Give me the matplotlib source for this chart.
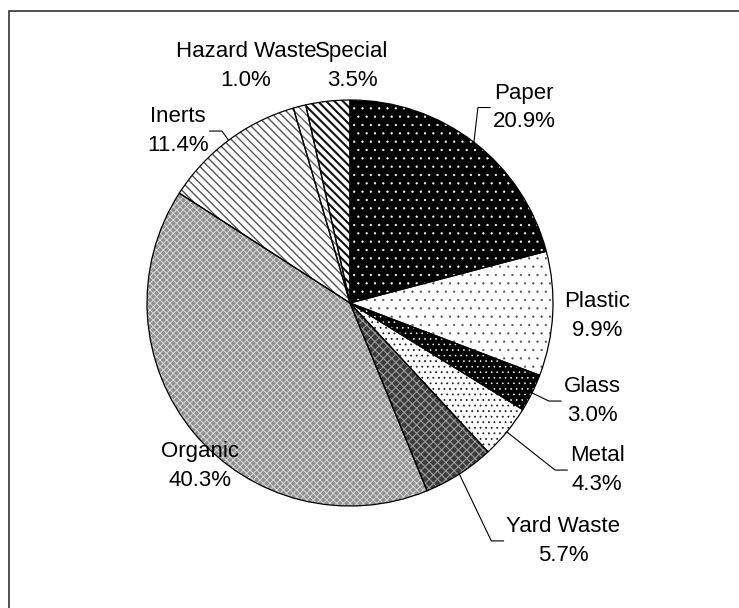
import matplotlib.pyplot as plt
from matplotlib.patches import Wedge, Rectangle
import numpy as np

plt.rcParams['font.family'] = ['Liberation Sans', 'DejaVu Sans']

categories = ['Paper', 'Plastic', 'Glass', 'Metal', 'Yard Waste',
              'Organic', 'Inerts', 'Hazard Waste', 'Special']
shares = [20.9, 9.9, 3.0, 4.3, 5.7, 40.3, 11.4, 1.0, 3.5]

# face colour, hatch, hatch colour, hatch width
styles = {
    'Paper':        ('black',   '..',       'white',   0.4),
    'Plastic':      ('white',   '..',       '#555555', 0.4),
    'Glass':        ('black',   '...',      'white',   0.4),
    'Metal':        ('white',   '...',      '#222222', 0.6),
    'Yard Waste':   ('#3c3c3c', 'xxxx',     '#9a9a9a', 0.8),
    'Organic':      ('#909090', 'xxxxx',    '#d8d8d8', 0.7),
    'Inerts':       ('white',   '\\\\\\\\', '#555555', 1.0),
    'Hazard Waste': ('white',   '\\\\\\\\', '#666666', 1.0),
    'Special':      ('white',   '\\\\\\\\', '#111111', 1.5),
}

# label centres in pie-radius units (pie centre = 0,0)
label_pos = {
    'Paper':        (0.857, 0.963),
    'Plastic':      (1.217, -0.064),
    'Glass':        (1.192, -0.483),
    'Metal':        (1.217, -0.823),
    'Yard Waste':   (1.049, -1.172),
    'Organic':      (-0.739, -0.803),
    'Inerts':       (-0.847, 0.847),
    'Hazard Waste': (-0.512, 1.167),
    'Special':      (0.010, 1.167),
}
leaders = ['Paper', 'Glass', 'Metal', 'Yard Waste', 'Inerts']

W, H = 739, 608
cx, cy, rad = 350, 303, 203   # pie centre / radius in pixels

fig = plt.figure(figsize=(W / 100, H / 100), dpi=100)
ax = fig.add_axes([0, 0, 1, 1])

wedges, _ = ax.pie(shares, startangle=90, counterclock=False,
                   wedgeprops=dict(linewidth=0))

for w, name in zip(wedges, categories):
    fc, hatch, hc, hlw = styles[name]
    w.set_facecolor(fc)
    with plt.rc_context({'hatch.linewidth': hlw}):
        hw = Wedge(w.center, w.r, w.theta1, w.theta2, fill=False,
                   hatch=hatch, edgecolor=hc, linewidth=0, zorder=2)
    if hasattr(hw, 'set_hatch_linewidth'):
        hw.set_hatch_linewidth(hlw)
    ax.add_patch(hw)
    ax.add_patch(Wedge(w.center, w.r, w.theta1, w.theta2, fill=False,
                       edgecolor='black', linewidth=0.9, zorder=3))

ax.set_xlim(-cx / rad, (W - cx) / rad)
ax.set_ylim((cy - H) / rad, cy / rad)
ax.set_aspect('auto')
ax.axis('off')

texts = {}
for name, val in zip(categories, shares):
    x, y = label_pos[name]
    texts[name] = ax.text(x, y, f'{name}\n{val:.1f}%', ha='center', va='center',
                          multialignment='center', fontsize=16, linespacing=1.45,
                          zorder=5)

fig.canvas.draw()
rend = fig.canvas.get_renderer()
inv = ax.transData.inverted()
for w, name in zip(wedges, categories):
    if name not in leaders:
        continue
    mid = np.deg2rad((w.theta1 + w.theta2) / 2)
    ex, ey = w.r * np.cos(mid), w.r * np.sin(mid)
    bb = texts[name].get_window_extent(rend).transformed(inv)
    ly = label_pos[name][1]
    if label_pos[name][0] > ex:
        side = bb.x0 - 0.012
        elbow = side - 0.06
    else:
        side = bb.x1 + 0.004
        elbow = side + 0.06
    ax.plot([ex, elbow, side], [ey, ly, ly], color='black', lw=0.8, zorder=4)

# frame: only top and left edges fall inside the picture
fig.add_artist(Rectangle((8.8 / W, -0.1), 1.2, 1.1 - 11.2 / H, fill=False,
                         edgecolor='#222222', linewidth=1.1,
                         transform=fig.transFigure, clip_on=False))

fig.savefig('out.png', dpi=100, facecolor='white')
